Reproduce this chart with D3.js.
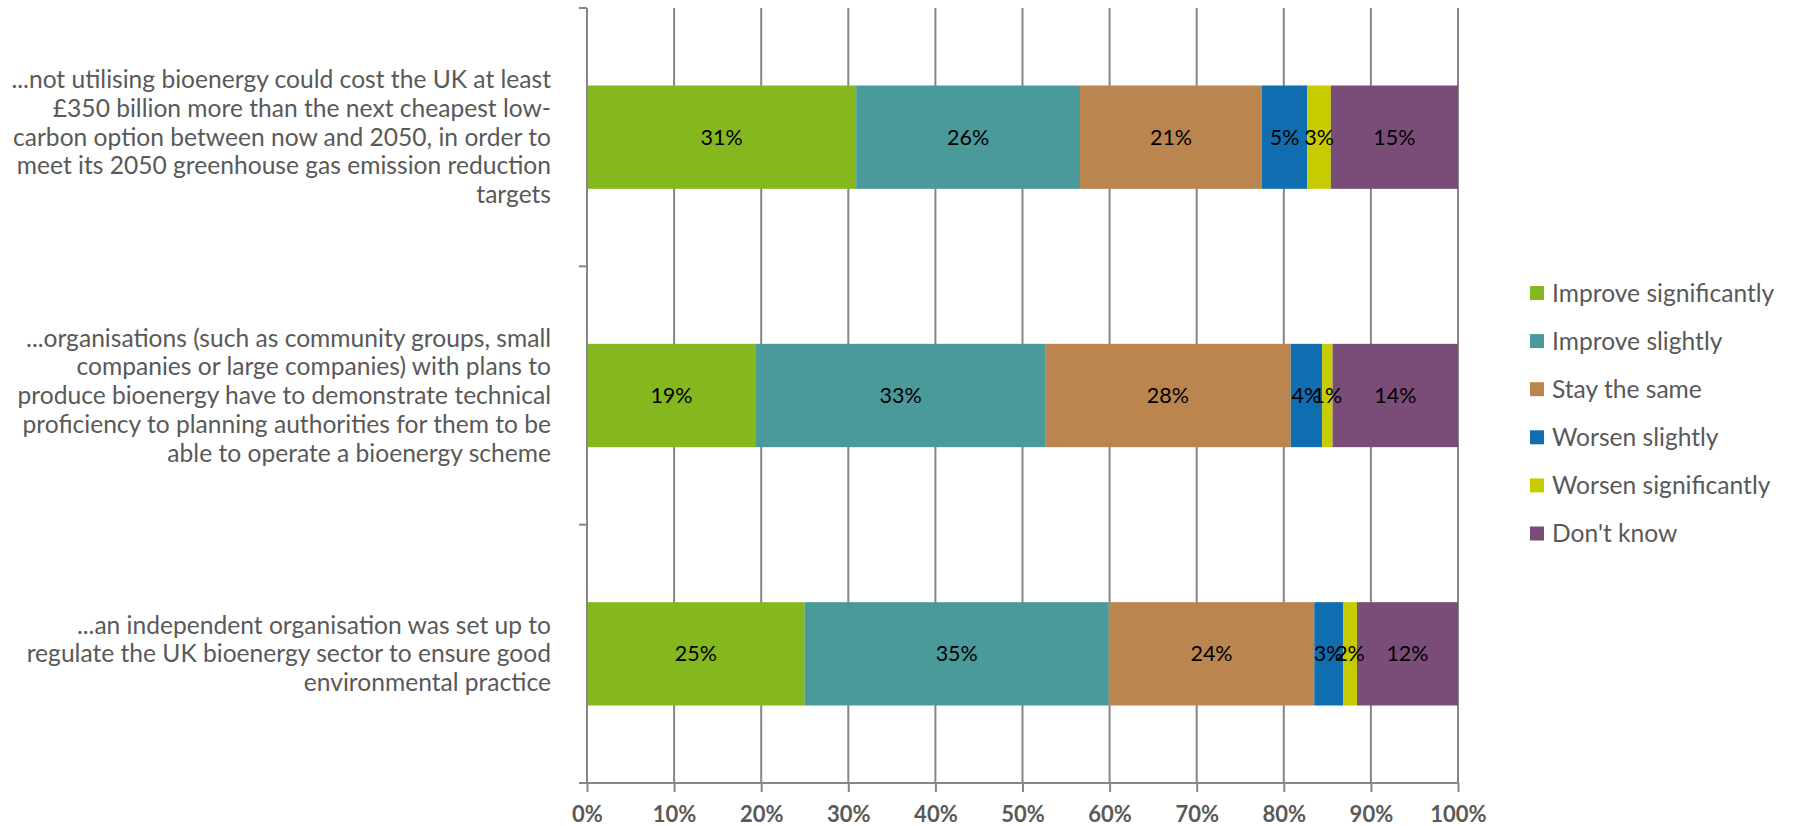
<!DOCTYPE html>
<html>
<head>
<meta charset="utf-8">
<script src="https://cdn.jsdelivr.net/npm/d3@7"></script>
<style>
  html, body { margin: 0; padding: 0; background: #fff; }
  svg { display: block; }
</style>
</head>
<body>
<svg id="chart" width="1797" height="826"></svg>
<script>
// ---- data ----
const categories = [
  "...not utilising bioenergy could cost the UK at least £350 billion more than the next cheapest low-carbon option between now and 2050, in order to meet its 2050 greenhouse gas emission reduction targets",
  "...organisations (such as community groups, small companies or large companies) with plans to produce bioenergy have to demonstrate technical proficiency to planning authorities for them to be able to operate a bioenergy scheme",
  "...an independent organisation was set up to regulate the UK bioenergy sector to ensure good environmental practice"
];
const categoryLines = [
  ["...not utilising bioenergy could cost the UK at least", "£350 billion more than the next cheapest low-", "carbon option between now and 2050, in order to", "meet its 2050 greenhouse gas emission reduction", "targets"],
  ["...organisations (such as community groups, small", "companies or large companies) with plans to", "produce bioenergy have to demonstrate technical", "proficiency to planning authorities for them to be", "able to operate a bioenergy scheme"],
  ["...an independent organisation was set up to", "regulate the UK bioenergy sector to ensure good", "environmental practice"]
];
const seriesNames = ["Improve significantly", "Improve slightly", "Stay the same", "Worsen slightly", "Worsen significantly", "Don't know"];
const improveSignificantly = [30.9, 19.4, 25.0];
const improveSlightly      = [25.7, 33.2, 34.9];
const stayTheSame          = [20.9, 28.2, 23.6];
const worsenSlightly       = [5.2, 3.6, 3.3];
const worsenSignificantly  = [2.7, 1.2, 1.6];
const dontKnow             = [14.6, 14.4, 11.6];
const xTicks = [0, 10, 20, 30, 40, 50, 60, 70, 80, 90, 100];
const colors = ["#85b71f", "#4a999b", "#bb8550", "#106db0", "#c6cc00", "#7a4d79"];

(function () {
// ---- build ----
const seriesValues = [improveSignificantly, improveSlightly, stayTheSame, worsenSlightly, worsenSignificantly, dontKnow];
const rows = categories.map((c, i) => {
  const r = { category: c };
  seriesNames.forEach((s, j) => r[s] = seriesValues[j][i]);
  return r;
});
const stacked = d3.stack().keys(seriesNames)(rows);

const svg = d3.select("#chart");
const mLeft = 587, mRight = 1458, mTop = 8, mBottom = 783;
const x = d3.scaleLinear().domain([0, 100]).range([mLeft, mRight]);
const y = d3.scaleBand().domain(categories).range([mTop, mBottom]).paddingInner(0.6).paddingOuter(0.3);
const color = d3.scaleOrdinal().domain(seriesNames).range(colors);
const gray = "#868686";
const textGray = "#595959";
const font = "Lato, 'Open Sans', sans-serif";

// gridlines
svg.append("g").selectAll("line").data(xTicks.filter(t => t > 0)).join("line")
  .attr("x1", d => x(d)).attr("x2", d => x(d))
  .attr("y1", mTop).attr("y2", mBottom)
  .attr("stroke", gray).attr("stroke-width", 2);

// bars
const layer = svg.append("g").selectAll("g").data(stacked).join("g")
  .attr("fill", d => color(d.key));
layer.selectAll("rect").data(d => d.map(v => ({ v, key: d.key }))).join("rect")
  .attr("x", d => x(d.v[0]))
  .attr("width", d => x(d.v[1]) - x(d.v[0]))
  .attr("y", d => y(d.v.data.category))
  .attr("height", y.bandwidth());

// data labels
const labels = svg.append("g");
stacked.forEach(s => {
  s.forEach(v => {
    labels.append("text")
      .attr("x", (x(v[0]) + x(v[1])) / 2)
      .attr("y", y(v.data.category) + y.bandwidth() / 2)
      .attr("dy", "0.35em")
      .attr("text-anchor", "middle")
      .attr("font-family", font)
      .attr("font-size", 21.5)
      .attr("fill", "#000")
      .text(Math.round(v[1] - v[0]) + "%");
  });
});

// x axis
const xAxis = d3.axisBottom(x).tickValues(xTicks).tickFormat(d => d + "%").tickSize(9).tickPadding(14);
const xg = svg.append("g").attr("transform", `translate(0,${mBottom})`).call(xAxis);
xg.select(".domain").attr("stroke", gray).attr("stroke-width", 2).attr("d", `M${mLeft},0H${mRight}`);
xg.selectAll(".tick line").attr("stroke", gray).attr("stroke-width", 2);
xg.selectAll(".tick text").attr("font-family", font).attr("font-size", 22).attr("font-weight", "bold").attr("fill", textGray);

// y axis line + ticks at band boundaries
svg.append("line").attr("x1", mLeft).attr("x2", mLeft).attr("y1", mTop).attr("y2", mBottom)
  .attr("stroke", gray).attr("stroke-width", 2);
const step = y.step();
const boundaries = d3.range(categories.length + 1).map(i => mTop + i * step);
svg.append("g").selectAll("line").data(boundaries).join("line")
  .attr("x1", mLeft - 8).attr("x2", mLeft)
  .attr("y1", d => d).attr("y2", d => d)
  .attr("stroke", gray).attr("stroke-width", 2);

// category labels
const lineH = 28.7;
categories.forEach((c, i) => {
  const lines = categoryLines[i];
  const cy = y(c) + y.bandwidth() / 2;
  const t = svg.append("text")
    .attr("text-anchor", "end")
    .attr("font-family", font)
    .attr("font-size", 24.6)
    .attr("fill", textGray);
  lines.forEach((ln, k) => {
    t.append("tspan")
      .attr("x", 551)
      .attr("y", cy + (k - (lines.length - 1) / 2) * lineH)
      .attr("dy", "0.35em")
      .text(ln);
  });
});

// legend
const legend = svg.append("g");
seriesNames.forEach((s, i) => {
  const ly = 293 + i * 48.1;
  legend.append("rect").attr("x", 1530).attr("y", ly - 7).attr("width", 14).attr("height", 14).attr("fill", color(s));
  legend.append("text").attr("x", 1552).attr("y", ly).attr("dy", "0.35em")
    .attr("font-family", font).attr("font-size", 24.6).attr("fill", textGray).text(s);
});
})();
</script>
</body>
</html>
